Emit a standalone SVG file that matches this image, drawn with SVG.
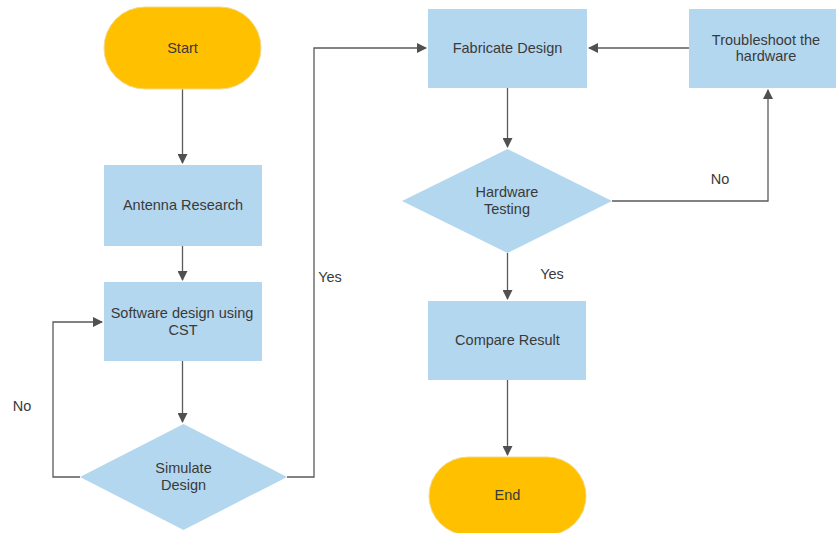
<svg xmlns="http://www.w3.org/2000/svg" width="836" height="533" viewBox="0 0 836 533">
<style>
.term{fill:#FFC000;stroke:#F2D98C;stroke-width:1}
.box{fill:#B3D7EF}
.t{font-family:"Liberation Sans",Arial,sans-serif;font-size:14.5px;fill:#3A3A3A;text-anchor:middle}
.c{fill:none;stroke:#5A5A5A;stroke-width:1.3}
</style>
<defs>
<marker id="a" markerWidth="10" markerHeight="10" refX="9" refY="5" orient="auto" markerUnits="userSpaceOnUse">
<path d="M0,0 L10,5 L0,10 z" fill="#505050"/>
</marker>
</defs>
<rect width="836" height="533" fill="#fff"/>
<g id="connectors">
<path class="c" d="M182.5,89 V163" marker-end="url(#a)"/>
<path class="c" d="M182.5,246 V280" marker-end="url(#a)"/>
<path class="c" d="M182.5,361 V422" marker-end="url(#a)"/>
<path class="c" d="M80,477 H53 V322 H102" marker-end="url(#a)"/>
<path class="c" d="M287,477 H314 V48 H426" marker-end="url(#a)"/>
<path class="c" d="M507.5,88 V147" marker-end="url(#a)"/>
<path class="c" d="M612,201 H768 V90" marker-end="url(#a)"/>
<path class="c" d="M689,48 H589" marker-end="url(#a)"/>
<path class="c" d="M507.5,253 V299" marker-end="url(#a)"/>
<path class="c" d="M507.5,380 V455" marker-end="url(#a)"/>
<text class="t" x="22" y="411">No</text>
<text class="t" x="330" y="282">Yes</text>
<text class="t" x="720" y="184">No</text>
<text class="t" x="552" y="279">Yes</text>
</g>
<g id="start"><rect class="term" x="104" y="7" width="157" height="82" rx="41" ry="41"/><text class="t" x="182.5" y="53">Start</text></g>
<g id="antenna"><rect class="box" x="104" y="165" width="158" height="81"/><text class="t" x="183" y="210">Antenna Research</text></g>
<g id="software"><rect class="box" x="104" y="282" width="158" height="79"/><text class="t" x="182" y="318">Software design using</text><text class="t" x="183" y="335">CST</text></g>
<g id="simulate"><polygon class="box" points="183.5,424 287,477 183.5,530 80,477"/><text class="t" x="183.5" y="473">Simulate</text><text class="t" x="183.5" y="490">Design</text></g>
<g id="fabricate"><rect class="box" x="428" y="9" width="159" height="79"/><text class="t" x="507.5" y="53">Fabricate Design</text></g>
<g id="troubleshoot"><rect class="box" x="689" y="9" width="148" height="79"/><text class="t" x="766" y="45">Troubleshoot the</text><text class="t" x="766" y="61">hardware</text></g>
<g id="hwtest"><polygon class="box" points="507.5,149 612,201 507.5,253 402,201"/><text class="t" x="507" y="197">Hardware</text><text class="t" x="507" y="214">Testing</text></g>
<g id="compare"><rect class="box" x="428" y="301" width="158" height="79"/><text class="t" x="507.5" y="345">Compare Result</text></g>
<g id="end"><rect class="term" x="429" y="457" width="157" height="78" rx="39" ry="39"/><text class="t" x="507.5" y="500">End</text></g>
</svg>
